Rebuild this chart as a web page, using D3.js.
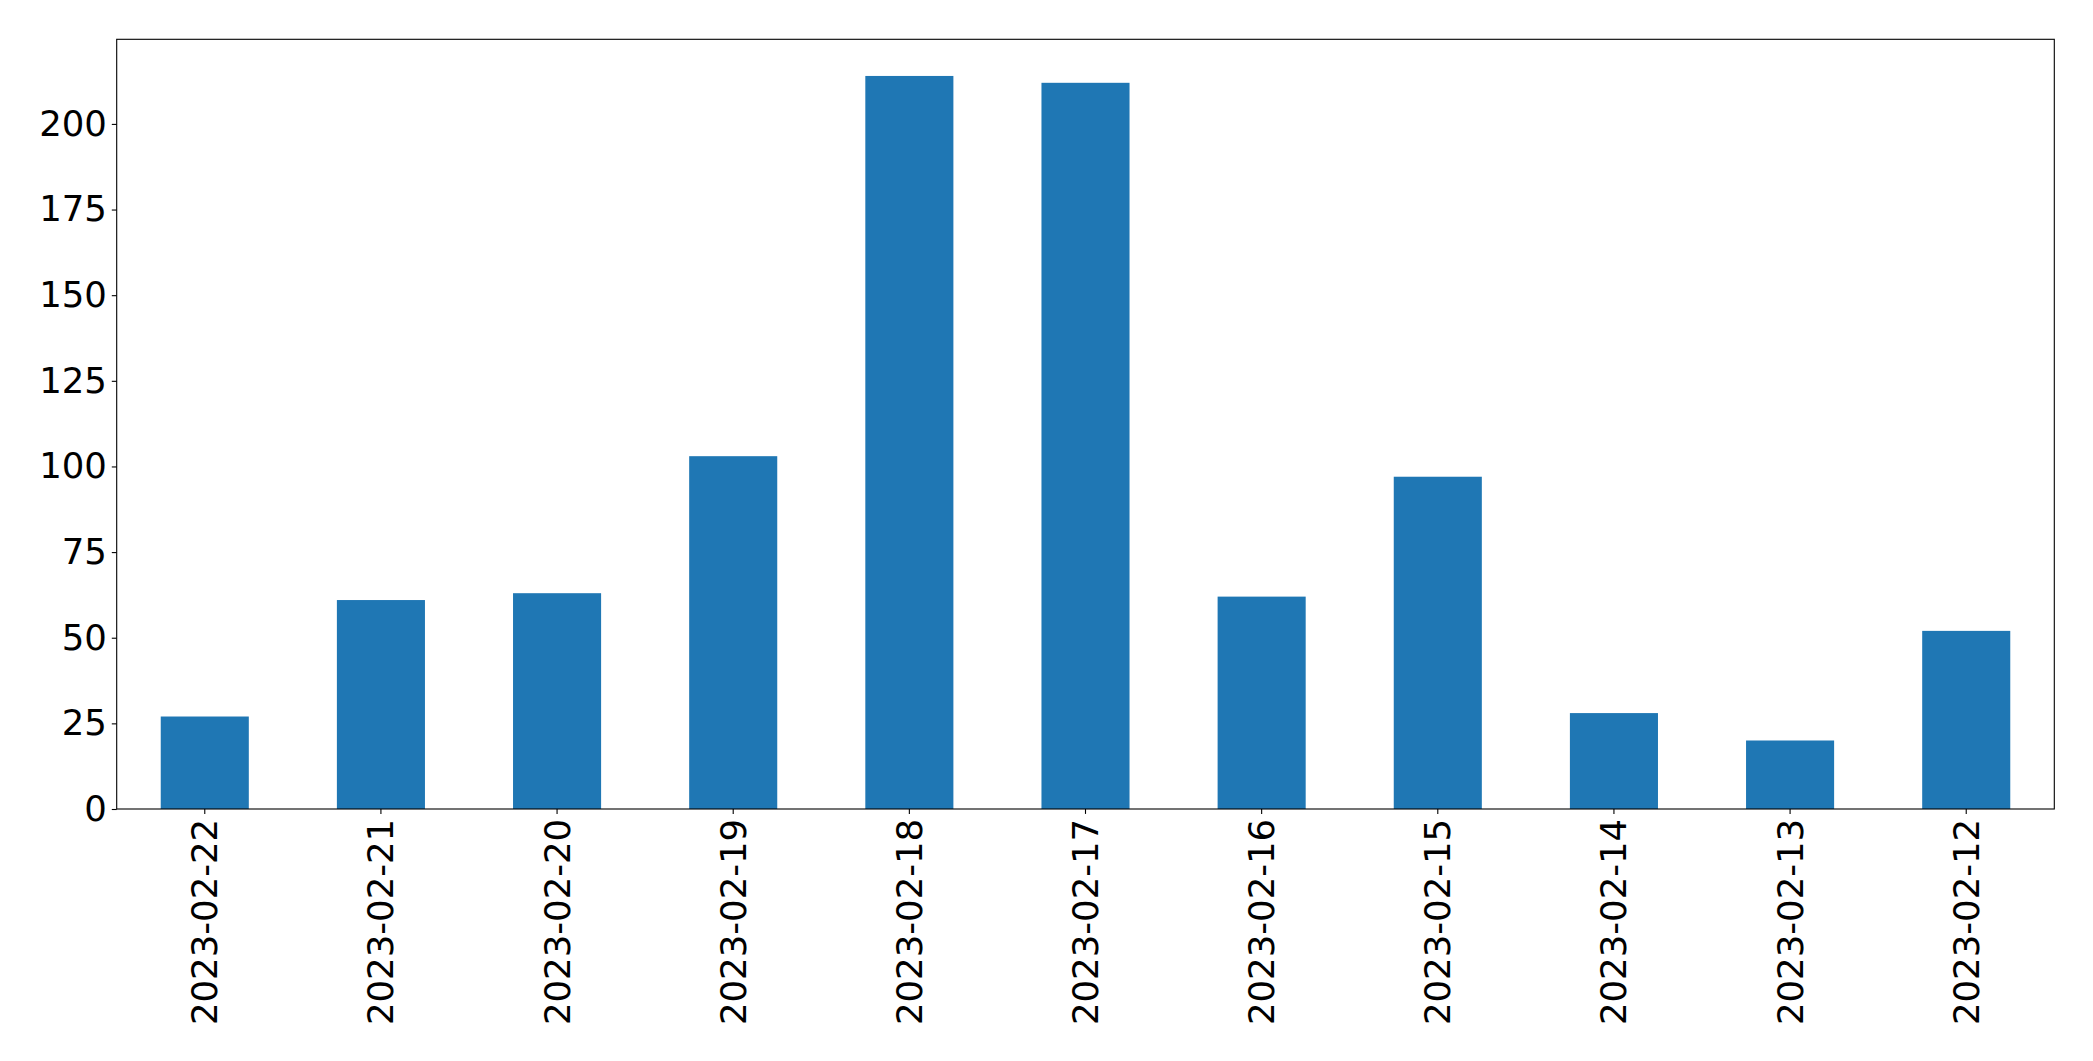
<!DOCTYPE html>
<html>
<head>
<meta charset="utf-8">
<script src="https://cdn.jsdelivr.net/npm/d3@7"></script>
<style>
  body { margin: 0; background: #fff; }
  svg { display: block; }
  text { font-family: "DejaVu Sans", sans-serif; fill: #000; }
</style>
</head>
<body>
<svg></svg>
<script>
const width = 2093;
const height = 1061;
const margin = {top: 39.3, right: 2093 - 2054.3, bottom: 1061 - 809, left: 116.7};
const svg = d3.select('svg').attr('width', width).attr('height', height);

// data
const dates = ['2023-02-22', '2023-02-21', '2023-02-20', '2023-02-19', '2023-02-18', '2023-02-17',
               '2023-02-16', '2023-02-15', '2023-02-14', '2023-02-13', '2023-02-12'];
const counts = [27, 61, 63, 103, 214, 212, 62, 97, 28, 20, 52];
const yTicks = [0, 25, 50, 75, 100, 125, 150, 175, 200];

const innerW = width - margin.left - margin.right;
const innerH = height - margin.top - margin.bottom;

//Scales
var xScale = d3.scaleBand()
               .domain(dates)
               .range([margin.left, margin.left + innerW])
               .paddingInner(0.5)
               .paddingOuter(0.25);

var yScale = d3.scaleLinear()
               .domain([0, d3.max(counts) * 1.05])
               .range([margin.top + innerH, margin.top]);

//Bars
svg.selectAll('rect.bar')
   .data(dates)
   .enter()
   .append('rect')
       .attr('class', 'bar')
       .attr('x', d => xScale(d))
       .attr('y', (d, i) => yScale(counts[i]))
       .attr('width', xScale.bandwidth())
       .attr('height', (d, i) => yScale(0) - yScale(counts[i]))
       .attr('fill', '#1f77b4');

//Axes
const fontSize = 35.5;
var xAxis = d3.axisBottom(xScale).tickSize(4.9).tickSizeOuter(0).tickPadding(4.9);
var yAxis = d3.axisLeft(yScale).tickValues(yTicks).tickSize(4.9).tickSizeOuter(0).tickPadding(4.9);

const gx = svg.append('g').attr('transform', `translate(0, ${margin.top + innerH})`).call(xAxis);
gx.select('.domain').remove();
gx.selectAll('line').attr('stroke', '#000').attr('stroke-width', 1.1);
gx.selectAll('text')
  .style('font-size', fontSize + 'px')
  .attr('transform', 'rotate(-90)')
  .attr('x', -9.8)
  .attr('y', 0)
  .attr('dy', '0.35em')
  .style('text-anchor', 'end');

const gy = svg.append('g').attr('transform', `translate(${margin.left}, 0)`).call(yAxis);
gy.select('.domain').remove();
gy.selectAll('line').attr('stroke', '#000').attr('stroke-width', 1.1);
gy.selectAll('text').style('font-size', fontSize + 'px');

//Frame
svg.append('rect')
   .attr('x', margin.left)
   .attr('y', margin.top)
   .attr('width', innerW)
   .attr('height', innerH)
   .attr('fill', 'none')
   .attr('stroke', '#000')
   .attr('stroke-width', 1.1);
</script>
</body>
</html>
